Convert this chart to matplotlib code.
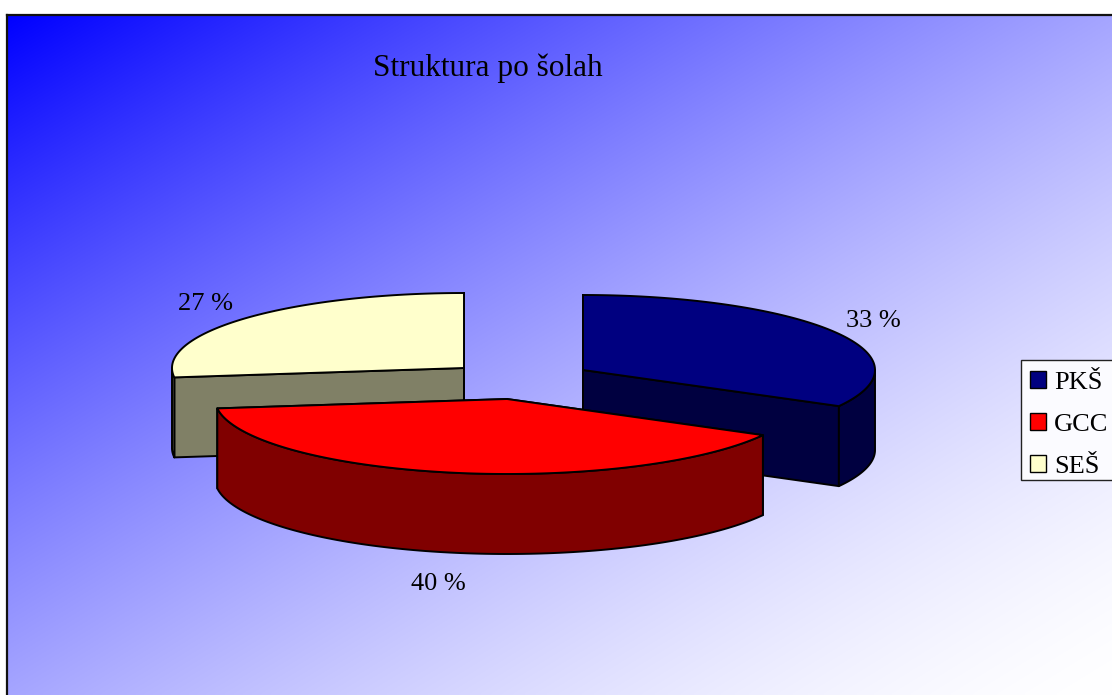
#!/usr/bin/env python3
"""
Struktura po solah: exploded 3D look pie on a diagonal blue gradient.
"""

import numpy as np
import matplotlib
matplotlib.use('Agg')
import matplotlib.pyplot as plt
from matplotlib.patches import Patch, Polygon, Rectangle

TITLE = 'Struktura po šolah'
LABELS = ['PKŠ', 'GCC', 'SEŠ']
SHARES = [33, 40, 27]
TOP_COLORS = ['#000080', '#ff0000', '#ffffcc']
SIDE_COLORS = ['#000040', '#800000', '#808066']

W, H = 1112, 695
LEFT, TOP = 6.5, 14.5
RX, RY, DEPTH = 292, 75, 80
# apex of every slice on the picture, slices are pulled out of the pie
CENTERS = [(583, 370), (507, 399), (464, 368)]
LABEL_POS = [(873, 321), (438, 584), (205, 304)]


def rim(center, a0, a1, n=120):
    """Points along the ellipse, angles clockwise from 12 o'clock."""
    t = np.radians(np.linspace(a0, a1, n))
    return np.column_stack([center[0] + RX * np.sin(t), center[1] - RY * np.cos(t)])


def draw_slice(ax, center, a0, a1, top_c, side_c):
    cx, cy = center
    down = np.array([0, DEPTH])
    edge = rim(center, a0, a1)

    # cut faces, only those turned to the viewer
    for p in (edge[0], edge[-1]):
        face = [(cx, cy), p, p + down, (cx, cy + DEPTH)]
        ax.add_patch(Polygon(face, closed=True, fc=side_c, ec='black', lw=1.4, joinstyle='round'))

    # outer wall, the part of the rim on the near side
    lo, hi = max(a0, 90), min(a1, 270)
    if lo < hi:
        front = rim(center, lo, hi)
        wall = np.vstack([front, (front + down)[::-1]])
        ax.add_patch(Polygon(wall, closed=True, fc=side_c, ec='black', lw=1.4, joinstyle='round'))

    top = np.vstack([[(cx, cy)], edge])
    ax.add_patch(Polygon(top, closed=True, fc=top_c, ec='black', lw=1.4, joinstyle='round'))


def main():
    fig = plt.figure(figsize=(W / 100, H / 100), dpi=100)
    ax = fig.add_axes([0, 0, 1, 1])
    ax.set_xlim(0, W)
    ax.set_ylim(H, 0)
    ax.axis('off')

    # diagonal gradient, blue top left to white bottom right
    xx, yy = np.meshgrid(np.linspace(0, 1, 400), np.linspace(0, 1, 250))
    g = (xx + yy) / 2
    ramp = 1 - (1 - g) ** 1.5
    img = np.dstack([ramp, ramp, np.ones_like(ramp)])
    ax.imshow(img, extent=[LEFT, W, H, TOP], aspect='auto', zorder=0, interpolation='bilinear')
    ax.set_xlim(0, W)
    ax.set_ylim(H, 0)
    ax.plot([LEFT, LEFT], [H, TOP], color='#111111', lw=1.6, zorder=1)
    ax.plot([LEFT, W], [TOP, TOP], color='#111111', lw=1.6, zorder=1)

    plt.rcParams['font.family'] = ['Liberation Serif', 'DejaVu Serif']
    ax.text(488, 68.5, TITLE, ha='center', va='center', fontsize=22.5, color='black')

    # angles from the shares, first slice starts at 12 o'clock
    edges = np.cumsum([0] + SHARES) / sum(SHARES) * 360
    for i in [2, 0, 1]:  # back slices first, GCC sits in front
        draw_slice(ax, CENTERS[i], edges[i], edges[i + 1], TOP_COLORS[i], SIDE_COLORS[i])

    for (x, y), share in zip(LABEL_POS, SHARES):
        ax.text(x, y, f'{share} %', ha='center', va='center', fontsize=19, color='black')

    # legend box drawn apart so its height can be set to the reference
    ax.add_patch(Rectangle((1021, 360), 100, 119.5, fc='#fbfbff', ec='#222222', lw=1.0, zorder=4))
    handles = [Patch(fc=c, ec='black', lw=1.0) for c in TOP_COLORS]
    leg = ax.legend(handles, LABELS, loc='upper left', bbox_to_anchor=(1019 / W, 1 - 360 / H),
                    bbox_transform=ax.transAxes, fontsize=19, frameon=False,
                    handlelength=0.64, handleheight=0.64, handletextpad=0.3,
                    labelspacing=0.72, borderpad=0.4, borderaxespad=0)
    leg.set_zorder(5)

    fig.savefig('out.png', dpi=100)


if __name__ == "__main__":
    main()
